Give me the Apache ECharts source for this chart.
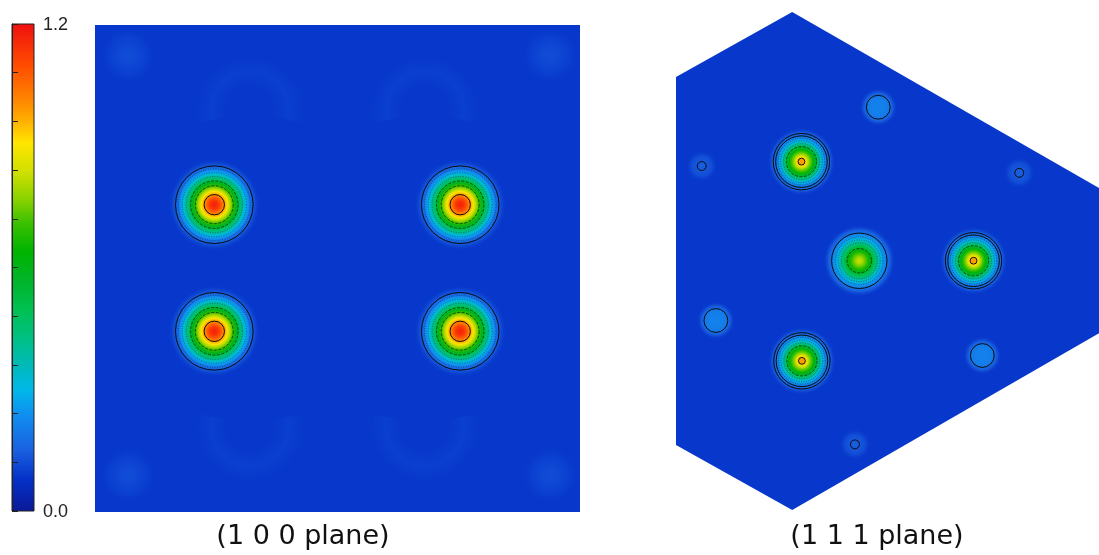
<!DOCTYPE html>
<html><head><meta charset="utf-8">
<script src="https://cdn.jsdelivr.net/npm/echarts@6/dist/echarts.min.js"></script>
<style>html,body{margin:0;padding:0;background:#fff}#c{width:1099px;height:555px}</style>
</head><body><div id="c"></div>
<script>
// ================= DATA =================
const colorbarMin = 0;
const colorbarMax = 1.2;
const colorbarTickStep = 0.12;
const colorbarEndLabels = ['0.0', '1.2'];
const planeLabels = ['(1 0 0 plane)', '(1 1 1 plane)'];
const backgroundDensity = 0.09;

// (1 0 0) plane, axis units (0..100 across the cell): [x, y, profile]
const atoms100 = [[24.6, 63.1, 'p100'], [75.3, 63.1, 'p100'], [24.6, 37.1, 'p100'], [75.3, 37.1, 'p100']];
const faintBlobs100 = [[6.8, 93.8, 'faint'], [93.8, 93.8, 'faint'], [6.8, 7.6, 'faint'], [93.8, 7.6, 'faint']];
// faint arc-shaped features: [x, y, opening]
const faintArcs100 = [[32.0, 82.5, 'down'], [68.0, 82.5, 'down'], [32.0, 17.5, 'up'], [68.0, 17.5, 'up']];

// (1 1 1) plane, same unit scale
const atoms111 = [
  [25.8, 71.7, 'p111'], [37.7, 51.3, 'p111c'], [61.2, 51.3, 'p111'], [25.9, 30.7, 'p111'],
  [41.6, 82.9, 'mid'], [8.2, 39.0, 'mid'], [63.0, 31.8, 'mid'],
  [5.3, 70.8, 'tiny'], [70.6, 69.4, 'tiny'], [36.8, 13.5, 'tiny']
];
const outline111 = [[23.9, 102.5], [0, 89.1], [0, 13.4], [23.9, 0], [87.0, 36.4], [87.0, 66.3]];

// radial density profiles: radius (axis units) and density value
const profileRadius = {
  p100:  [0, 0.8, 1.4, 2.1, 2.7, 3.3, 3.9, 4.5, 5.1, 5.8, 6.4, 7.0, 7.6, 8.4, 9.5],
  p111:  [0, 0.4, 0.8, 1.2, 1.6, 2.1, 2.5, 2.9, 3.3, 3.7, 4.1, 4.5, 5.1, 6.0, 7.0],
  p111c: [0, 0.6, 1.2, 1.9, 2.5, 3.1, 3.7, 4.3, 4.9, 5.6, 6.4, 7.4],
  mid:   [0, 1.2, 2.1, 2.5, 3.1, 3.9],
  tiny:  [0, 0.9, 2.1, 3.3],
  faint: [0, 1.6, 4.1, 5.8]
};
const profileDensity = {
  p100:  [1.17, 1.14, 1.08, 0.99, 0.90, 0.80, 0.70, 0.60, 0.50, 0.40, 0.31, 0.24, 0.17, 0.12, 0.09],
  p111:  [1.00, 0.98, 0.92, 0.85, 0.77, 0.70, 0.63, 0.56, 0.48, 0.40, 0.33, 0.27, 0.20, 0.14, 0.09],
  p111c: [0.83, 0.80, 0.74, 0.66, 0.58, 0.50, 0.41, 0.33, 0.26, 0.20, 0.14, 0.09],
  mid:   [0.21, 0.21, 0.20, 0.18, 0.13, 0.09],
  tiny:  [0.15, 0.14, 0.12, 0.09],
  faint: [0.12, 0.115, 0.10, 0.09]
};
// contour line radii (axis units)
const contourRadius = {
  p100:  [2.1, 3.9, 4.9, 5.8, 6.6, 7.4, 8.0],
  p111:  [0.7, 3.1, 3.7, 4.3, 4.8, 5.3, 5.8],
  p111c: [2.5, 3.7, 4.3, 4.9, 5.7],
  mid:   [2.45],
  tiny:  [0.92],
  faint: []
};

// ================= STYLE =================
const contourKinds = {
  p100:  ['s', 'd', 'd', 'o', 'o', 'o', 's'],
  p111:  ['s', 'd', 'o', 'o', 'o', 's', 's'],
  p111c: ['d', 'o', 'o', 'o', 's'],
  mid:   ['s'],
  tiny:  ['s'],
  faint: []
};
const colormap = [
  [0.00, '#0b1896'], [0.08, '#0431c8'], [0.15, '#1a60e0'], [0.24, '#1090f0'],
  [0.30, '#00b8e8'], [0.36, '#00bab8'], [0.43, '#00c080'], [0.50, '#00c050'],
  [0.57, '#00b428'], [0.64, '#00b400'], [0.71, '#3cc000'], [0.76, '#80d000'],
  [0.835, '#d0e000'], [0.906, '#ffe600'], [0.96, '#ffb000'], [1.02, '#ff8000'],
  [1.10, '#ff4a00'], [1.20, '#ee1010']
];
function hex2rgb(h) { return [parseInt(h.substr(1, 2), 16), parseInt(h.substr(3, 2), 16), parseInt(h.substr(5, 2), 16)]; }
function cmap(v, alpha) {
  v = Math.max(colormap[0][0], Math.min(colormap[colormap.length - 1][0], v));
  let i = 0;
  while (i < colormap.length - 2 && v > colormap[i + 1][0]) i++;
  const a = colormap[i], b = colormap[i + 1];
  const t = (v - a[0]) / (b[0] - a[0]);
  const ca = hex2rgb(a[1]), cb = hex2rgb(b[1]);
  const c = ca.map((x, k) => Math.round(x + (cb[k] - x) * t));
  return 'rgba(' + c[0] + ',' + c[1] + ',' + c[2] + ',' + (alpha == null ? 1 : alpha) + ')';
}
const lineStyles = {
  s: { lineWidth: 1, lineDash: null, stroke: '#0a0a0a' },
  d: { lineWidth: 0.8, lineDash: [3, 1.5], stroke: 'rgba(0,0,0,0.75)' },
  o: { lineWidth: 0.7, lineDash: [1, 1.5], stroke: 'rgba(0,0,0,0.55)' }
};

function atomRenderer(list, withContours) {
  return function (params, api) {
    const a = list[params.dataIndex];
    const c = api.coord([a[0], a[1]]);
    const k = api.size([1, 1])[0];
    const rad = profileRadius[a[2]], val = profileDensity[a[2]];
    const R = rad[rad.length - 1] * k;
    const stops = rad.map((r, i) => ({ offset: (r * k) / R, color: cmap(val[i]) }));
    stops[stops.length - 1].color = cmap(val[val.length - 1], 0);
    const children = [{
      type: 'circle', shape: { cx: c[0], cy: c[1], r: R },
      style: { fill: { type: 'radial', x: 0.5, y: 0.5, r: 0.5, colorStops: stops } }
    }];
    if (withContours) {
      contourRadius[a[2]].forEach((r, i) => {
        const ls = lineStyles[contourKinds[a[2]][i]];
        children.push({
          type: 'circle', shape: { cx: c[0], cy: c[1], r: r * k },
          style: { fill: null, stroke: ls.stroke, lineWidth: ls.lineWidth, lineDash: ls.lineDash }
        });
      });
    }
    return { type: 'group', children: children };
  };
}

function arcRenderer(params, api) {
  const a = faintArcs100[params.dataIndex];
  const c = api.coord([a[0], a[1]]);
  const k = api.size([1, 1])[0];
  const R = 11 * k, r0 = 5 * k;
  const start = a[2] === 'down' ? Math.PI * 0.92 : -Math.PI * 0.08;
  const end = a[2] === 'down' ? Math.PI * 2.08 : Math.PI * 1.08;
  return {
    type: 'sector',
    shape: { cx: c[0], cy: c[1], r: R, r0: r0, startAngle: start, endAngle: end, clockwise: true },
    style: {
      fill: {
        type: 'radial', x: c[0], y: c[1], r: R, global: true,
        colorStops: [
          { offset: 0, color: cmap(0.12, 0) }, { offset: r0 / R, color: cmap(0.12, 0) },
          { offset: (r0 / R + 1) / 2, color: cmap(0.12, 0.35) }, { offset: 1, color: cmap(0.12, 0) }
        ]
      }
    }
  };
}

const chart = echarts.init(document.getElementById('c'), null, { renderer: 'canvas' });
const hiddenAxis = { show: false };
const option = {
  animation: false,
  backgroundColor: '#ffffff',
  grid: [
    { left: 12, top: 24, width: 22, height: 487, show: false },
    { left: 95, top: 25, width: 485, height: 487, show: true, backgroundColor: cmap(backgroundDensity), borderWidth: 0 },
    { left: 676, top: 12, width: 423, height: 498, show: false }
  ],
  xAxis: [
    Object.assign({ gridIndex: 0, type: 'value', min: 0, max: 1 }, hiddenAxis),
    Object.assign({ gridIndex: 1, type: 'value', min: 0, max: 100 }, hiddenAxis),
    Object.assign({ gridIndex: 2, type: 'value', min: 0, max: 87.0 }, hiddenAxis)
  ],
  yAxis: [
    {
      gridIndex: 0, type: 'value', position: 'right', min: colorbarMin, max: colorbarMax, interval: colorbarTickStep, z: 5,
      axisLine: { show: true, lineStyle: { color: '#222', width: 1 } },
      axisTick: { show: true, inside: false, interval: 0, length: 6, lineStyle: { color: '#222', width: 1 } },
      splitLine: { show: false },
      axisLabel: {
        show: true, showMinLabel: true, showMaxLabel: true, interval: 0, margin: 9, color: '#222', fontSize: 18, fontFamily: 'Liberation Sans', verticalAlign: 'top', padding: [-8, 0, 0, 0],
        formatter: function (v) {
          if (Math.abs(v - colorbarMin) < 1e-6) return colorbarEndLabels[0];
          if (Math.abs(v - colorbarMax) < 1e-6) return colorbarEndLabels[1];
          return '';
        }
      }
    },
    Object.assign({ gridIndex: 1, type: 'value', min: 0, max: 100 }, hiddenAxis),
    Object.assign({ gridIndex: 2, type: 'value', min: 0, max: 102.5 }, hiddenAxis)
  ],
  series: [
    {
      type: 'custom', xAxisIndex: 0, yAxisIndex: 0, z: 2, silent: true,
      data: [[0, colorbarMax]],
      renderItem: function (params, api) {
        const p0 = api.coord([0, colorbarMax]);
        const p1 = api.coord([1, colorbarMin]);
        const stops = colormap.map(s => ({ offset: (s[0] - colorbarMin) / (colorbarMax - colorbarMin), color: s[1] }));
        return {
          type: 'rect', shape: { x: p0[0], y: p0[1], width: p1[0] - p0[0], height: p1[1] - p0[1] },
          style: { fill: { type: 'linear', x: 0, y: 1, x2: 0, y2: 0, colorStops: stops }, stroke: '#222', lineWidth: 1 }
        };
      }
    },
    {
      type: 'custom', xAxisIndex: 1, yAxisIndex: 1, z: 1, clip: true, silent: true,
      data: faintBlobs100.map(a => [a[0], a[1]]), renderItem: atomRenderer(faintBlobs100, false)
    },
    {
      type: 'custom', xAxisIndex: 1, yAxisIndex: 1, z: 1, clip: true, silent: true,
      data: faintArcs100.map(a => [a[0], a[1]]), renderItem: arcRenderer
    },
    {
      type: 'custom', xAxisIndex: 1, yAxisIndex: 1, z: 3, clip: true, silent: true,
      data: atoms100.map(a => [a[0], a[1]]), renderItem: atomRenderer(atoms100, true)
    },
    {
      type: 'custom', xAxisIndex: 2, yAxisIndex: 2, z: 1, silent: true,
      data: [[0, 0]],
      renderItem: function (params, api) {
        return { type: 'polygon', shape: { points: outline111.map(p => api.coord(p)) }, style: { fill: cmap(backgroundDensity) } };
      }
    },
    {
      type: 'custom', xAxisIndex: 2, yAxisIndex: 2, z: 3, silent: true,
      data: atoms111.map(a => [a[0], a[1]]), renderItem: atomRenderer(atoms111, true)
    }
  ],
  graphic: [
    { type: 'text', x: 303, y: 537, style: { text: planeLabels[0], fill: '#111', font: '27px "DejaVu Sans"', align: 'center', verticalAlign: 'middle', textAlign: 'center', textVerticalAlign: 'middle' } },
    { type: 'text', x: 877, y: 537, style: { text: planeLabels[1], fill: '#111', font: '27px "DejaVu Sans"', align: 'center', verticalAlign: 'middle', textAlign: 'center', textVerticalAlign: 'middle' } }
  ]
};
chart.setOption(option);
</script>
</body></html>
